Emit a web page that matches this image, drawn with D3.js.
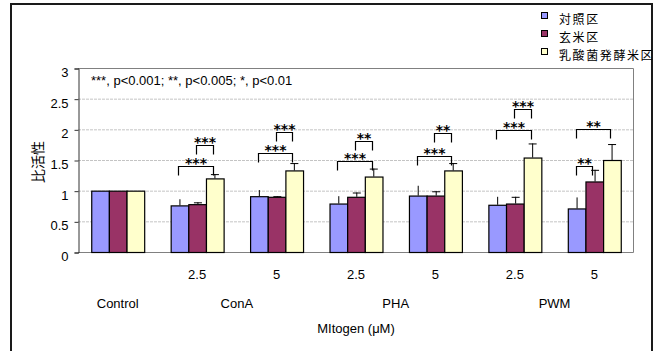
<!DOCTYPE html>
<html>
<head>
<meta charset="utf-8">
<script src="https://cdn.jsdelivr.net/npm/d3@7"></script>
<style>
  body { margin: 0; background: #fff; }
  text { font-family: "Liberation Sans", Arial, sans-serif; fill: #000; }
  .jp { font-family: "Noto Sans CJK JP", sans-serif; }
</style>
</head>
<body>
<svg id="chart"></svg>
<script>
  const width = 669;
  const height = 351;
  const margin = { top: 68, left: 78, bottom: 99, right: 35 };

  const categories = ["Control", "ConA 2.5", "ConA 5", "PHA 2.5", "PHA 5", "PWM 2.5", "PWM 5"];
  const doseLabels = ["", "2.5", "5", "2.5", "5", "2.5", "5"];
  const mitogens = ["Control", "ConA", "PHA", "PWM"];
  const series = ["対照区", "玄米区", "乳酸菌発酵米区"];
  const colors = ["#9999ff", "#993366", "#ffffcc"];

  // mean and upper error value, per series, per category
  const control = [1.00, 0.76, 0.91, 0.79, 0.92, 0.77, 0.71];
  const brownRice = [1.00, 0.78, 0.90, 0.90, 0.92, 0.79, 1.15];
  const fermented = [1.00, 1.20, 1.33, 1.23, 1.33, 1.54, 1.50];
  const controlErr = [1.00, 0.86, 1.01, 0.91, 1.08, 0.90, 0.89];
  const brownRiceErr = [1.00, 0.81, 0.91, 0.97, 0.99, 0.90, 1.34];
  const fermentedErr = [1.00, 1.27, 1.45, 1.36, 1.45, 1.77, 1.76];

  const yTicks = [0, 0.5, 1, 1.5, 2, 2.5, 3];
  const note = "***, p<0.001; **, p<0.005; *, p<0.01";

  // significance brackets: category index, from series, to series, level, label
  const bracketCat = [1, 1, 2, 2, 3, 3, 4, 4, 5, 5, 6, 6];
  const bracketFrom = [0, 1, 0, 1, 0, 1, 0, 1, 0, 1, 0, 0];
  const bracketTo = [2, 2, 2, 2, 2, 2, 2, 2, 2, 2, 1, 2];
  const bracketLevel = [1.41, 1.74, 1.61, 1.96, 1.48, 1.81, 1.57, 1.94, 1.99, 2.33, 1.41, 2.00];
  const bracketLabel = ["***", "***", "***", "***", "***", "**", "***", "**", "***", "***", "**", "**"];

  const values = [control, brownRice, fermented];
  const errs = [controlErr, brownRiceErr, fermentedErr];

  const svg = d3.select("#chart")
    .attr("width", width)
    .attr("height", height);

  svg.append("rect")
    .attr("width", width).attr("height", height)
    .attr("fill", "#fff");

  // outer frame (bottom edge runs off the picture)
  svg.append("rect")
    .attr("x", 11).attr("y", 4)
    .attr("width", 641).attr("height", 400)
    .attr("fill", "none")
    .attr("stroke", "#1a1a1a")
    .attr("stroke-width", 2);

  const x0 = d3.scaleBand()
    .domain(categories)
    .range([margin.left, width - margin.right]);

  const x1 = d3.scaleBand()
    .domain(d3.range(series.length))
    .range([0, x0.bandwidth()])
    .paddingOuter(0.75);

  const y = d3.scaleLinear()
    .domain([0, 3])
    .range([height - margin.bottom, margin.top]);

  //gridlines
  svg.append("g")
    .selectAll("line")
    .data(yTicks.slice(1, -1))
    .enter()
    .append("line")
      .attr("x1", margin.left).attr("x2", width - margin.right)
      .attr("y1", d => y(d) + 0.5).attr("y2", d => y(d) + 0.5)
      .attr("stroke", "#c4c4c4")
      .attr("stroke-dasharray", "3,1");

  // plot border top/right/bottom
  svg.append("path")
    .attr("d", `M${margin.left},${y(3) + 0.5}H${width - margin.right - 0.5}V${y(0) + 0.5}H${margin.left}`)
    .attr("fill", "none")
    .attr("stroke", "#808080");

  //bars
  const groups = svg.append("g")
    .selectAll("g")
    .data(categories)
    .enter()
    .append("g")
      .attr("transform", d => `translate(${x0(d)},0)`);

  groups.selectAll("rect")
    .data((d, i) => series.map((s, j) => ({ j: j, v: values[j][i] })))
    .enter()
    .append("rect")
      .attr("x", d => x1(d.j) + 0.5)
      .attr("y", d => y(d.v) + 0.5)
      .attr("width", x1.bandwidth())
      .attr("height", d => y(0) - y(d.v))
      .attr("fill", d => colors[d.j])
      .attr("stroke", "#000")
      .attr("stroke-width", 1.2);

  // error bars (upper only)
  groups.selectAll(".err")
    .data((d, i) => series.map((s, j) => ({ j: j, v: values[j][i], e: errs[j][i] })).filter(d => d.e > d.v))
    .enter()
    .append("path")
      .classed("err", true)
      .attr("d", d => {
        let cx = Math.round(x1(d.j) + x1.bandwidth() / 2) + 0.5;
        let p = `M${cx},${y(d.v)}V${y(d.e)}`;
        if (d.j > 0) p += `M${cx - 4},${y(d.e) + 0.5}H${cx + 4}`;
        return p;
      })
      .attr("stroke", "#000")
      .attr("fill", "none");

  // significance brackets
  const brackets = svg.append("g");
  bracketCat.forEach((c, i) => {
    let gx = x0(categories[c]);
    let xa = Math.round(gx + x1(bracketFrom[i]) + x1.bandwidth() / 2) - 0.5;
    let xb = Math.round(gx + x1(bracketTo[i]) + x1.bandwidth() / 2) - 1.5;
    let yy = Math.round(y(bracketLevel[i])) + 0.5;
    brackets.append("path")
      .attr("d", `M${xa},${yy + 9}V${yy}H${xb}V${yy + 9}`)
      .attr("fill", "none")
      .attr("stroke", "#000")
      .attr("stroke-width", 1.2);
    brackets.append("text")
      .attr("x", (xa + xb) / 2)
      .attr("y", yy + 1.5)
      .attr("text-anchor", "middle")
      .style("font-family", "DejaVu Sans")
      .style("font-weight", "bold")
      .style("font-size", "14px")
      .text(bracketLabel[i]);
  });

  //y axis
  const yAxis = d3.axisLeft(y)
    .tickValues(yTicks)
    .tickSize(4)
    .tickPadding(6)
    .tickFormat(d => String(d));

  const yg = svg.append("g")
    .attr("transform", `translate(${margin.left + 0.5},0.5)`)
    .call(yAxis);
  yg.select(".domain").attr("stroke", "#333");
  yg.selectAll(".tick line").attr("stroke", "#333");
  yg.selectAll("text")
    .attr("dy", "0.62em")
    .style("font-size", "13px");

  // note
  svg.append("text")
    .attr("x", 91)
    .attr("y", 85)
    .style("font-size", "13px")
    .text(note);

  // x labels
  svg.append("g")
    .selectAll("text")
    .data(doseLabels)
    .enter()
    .append("text")
      .attr("x", (d, i) => x0(categories[i]) + x0.bandwidth() / 2)
      .attr("y", 279)
      .attr("text-anchor", "middle")
      .style("font-size", "13px")
      .text(d => d);

  const mitogenX = [
    x0(categories[0]) + x0.bandwidth() / 2,
    x0(categories[2]),
    x0(categories[4]),
    x0(categories[6])
  ];
  svg.append("g")
    .selectAll("text")
    .data(mitogens)
    .enter()
    .append("text")
      .attr("x", (d, i) => mitogenX[i])
      .attr("y", 308)
      .attr("text-anchor", "middle")
      .style("font-size", "13px")
      .text(d => d);

  svg.append("text")
    .attr("x", (margin.left + width - margin.right) / 2)
    .attr("y", 333)
    .attr("text-anchor", "middle")
    .style("font-size", "13px")
    .text("MItogen (μM)");

  svg.append("text")
    .attr("class", "jp")
    .attr("transform", `translate(43,${(y(0) + y(3)) / 2 + 2}) rotate(-90)`)
    .attr("text-anchor", "middle")
    .style("font-size", "14px")
    .text("比活性");

  //legend
  const legend = svg.append("g")
    .selectAll("g")
    .data(series)
    .enter()
    .append("g")
      .attr("transform", (d, i) => `translate(541,${12 + i * 18})`);

  legend.append("rect")
    .attr("x", 0.5).attr("y", 0.5)
    .attr("width", 6).attr("height", 6)
    .attr("fill", (d, i) => colors[i])
    .attr("stroke", "#000");

  legend.append("text")
    .attr("class", "jp")
    .attr("x", 18)
    .attr("y", 11.5)
    .style("font-size", "12px")
    .style("letter-spacing", "1.6px")
    .text(d => d);
</script>
</body>
</html>
